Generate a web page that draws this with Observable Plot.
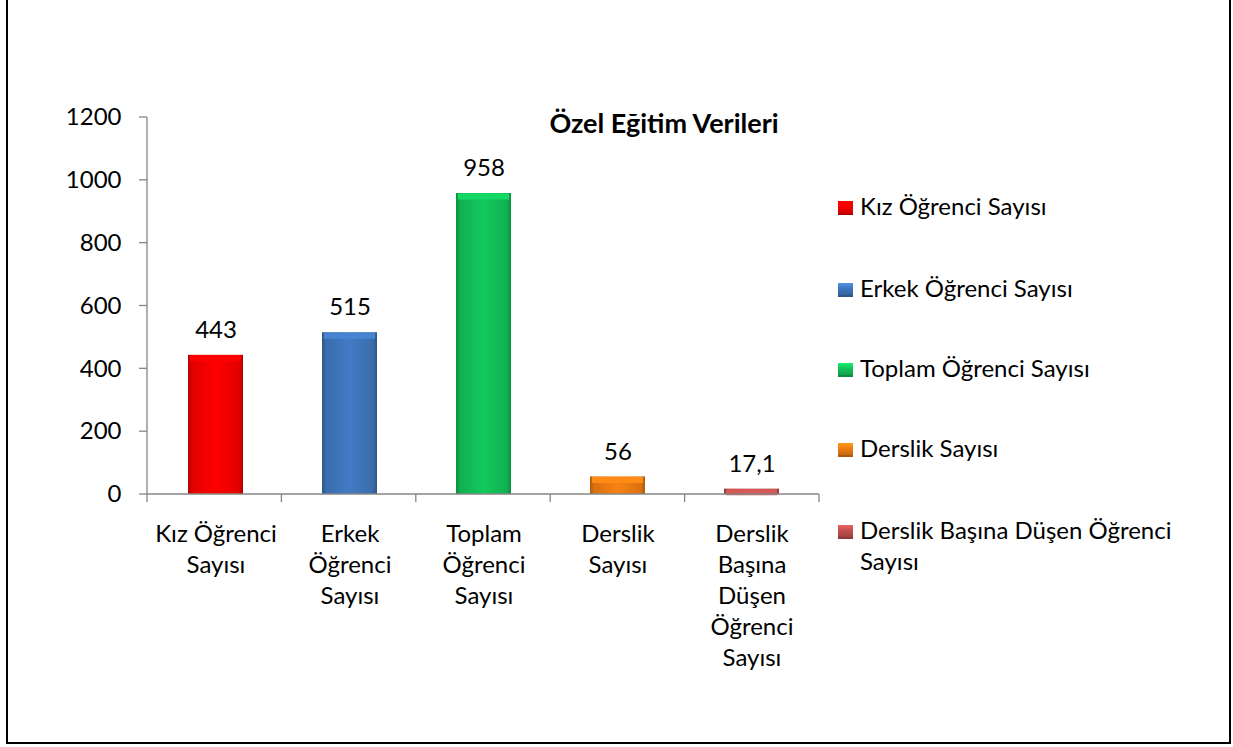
<!DOCTYPE html>
<html><head><meta charset="utf-8">
<script src="https://cdn.jsdelivr.net/npm/d3@7"></script>
<script src="https://cdn.jsdelivr.net/npm/@observablehq/plot@0.6"></script>
<style>
body{margin:0;background:#fff;font-family:Lato,"Open Sans",sans-serif;}
#wrap{position:relative;width:1233px;height:747px;overflow:hidden;background:#fff;}
#frame{position:absolute;left:6px;top:-10px;width:1225px;height:754px;border:2px solid #000;box-sizing:border-box;pointer-events:none;}
#chart{position:absolute;left:0;top:0;}
#title{position:absolute;left:464px;width:400px;text-align:center;top:107px;line-height:31px;font-size:27px;font-weight:bold;color:#000;}
.leg{position:absolute;left:860px;width:330px;font-size:24px;line-height:31px;color:#000;}
.mk{position:absolute;left:838px;width:15px;height:14px;box-sizing:border-box;}
</style>
</head><body>
<svg width="0" height="0" style="position:absolute"><defs id="defs"></defs></svg>
<div id="wrap"><div id="chart"></div><div id="title"></div><div id="frame"></div></div>
<script>
const titleText = "Özel Eğitim Verileri";
const categories = ["Kız Öğrenci Sayısı","Erkek Öğrenci Sayısı","Toplam Öğrenci Sayısı","Derslik Sayısı","Derslik Başına Düşen Öğrenci Sayısı"];
const axisLabels = ["Kız Öğrenci\nSayısı","Erkek\nÖğrenci\nSayısı","Toplam\nÖğrenci\nSayısı","Derslik\nSayısı","Derslik\nBaşına\nDüşen\nÖğrenci\nSayısı"];
const values = [443, 515, 958, 56, 17.1];
const valueLabels = ["443","515","958","56","17,1"];
const yTicks = [0,200,400,600,800,1000,1200];
const colors = ["#f80000","#3f77bd","#12c25a","#ee7d12","#c0504d"];
const legendBaselines = [215, 297, 377, 457, 539];

// gradients
const defs = d3.select("#defs");
colors.forEach((c,i)=>{
  const base = d3.color(c);
  const g = defs.append("linearGradient").attr("id","g"+i).attr("x1","0").attr("x2","1").attr("y1","0").attr("y2","0");
  [[0,base.darker(0.9)],[0.08,base.darker(0.25)],[0.5,base.brighter(0.1)],[0.92,base.darker(0.25)],[1,base.darker(0.9)]]
    .forEach(([o,col])=>g.append("stop").attr("offset",o).attr("stop-color",col.formatHex()));
});

const data = categories.map((c,i)=>({cat:c, value:values[i], label:valueLabels[i], grad:`url(#g${i})`, top:d3.color(colors[i]).brighter(0.3).formatHex()}));

const W = 1233, H = 747;
const gray = "#868686";
const chart = Plot.plot({
  width: W, height: H,
  marginLeft: 147, marginRight: W - 819, marginTop: 117, marginBottom: H - 494,
  style: {fontFamily: "Lato, 'Open Sans', sans-serif", fontSize: "24px", color: "#000", background: "transparent", overflow: "visible"},
  x: {domain: categories, paddingInner: 0.59, paddingOuter: 0.295},
  y: {domain: [0, 1200]},
  color: {type: "identity"},
  marks: [
    Plot.barY(data, {x: "cat", y: "value", fill: "grad"}),
    Plot.tickY(data, {x: "cat", y: "value", stroke: "top", strokeWidth: 6, dy: 3, insetLeft: 2, insetRight: 2}),
    Plot.text(data, {x: "cat", y: "value", text: "label", dy: -25, fill: "#000"}),
    Plot.axisY({ticks: yTicks, tickSize: 0, tickPadding: 26, label: null, tickFormat: d => String(d)}),
    Plot.axisX({tickSize: 0, tickPadding: 25, label: null, lineAnchor: "top", lineHeight: 1.3,
      tickFormat: d => axisLabels[categories.indexOf(d)]}),
    (index, scales, vals, dims) => {
      const g = d3.create("svg:g").attr("stroke", gray).attr("stroke-width", 1.3).attr("fill", "none");
      const y0 = scales.y(0), y1 = scales.y(1200);
      const xl = dims.marginLeft, xr = dims.width - dims.marginRight;
      g.append("line").attr("x1", xl).attr("x2", xl).attr("y1", y0).attr("y2", y1);
      g.append("line").attr("x1", xl).attr("x2", xr).attr("y1", y0).attr("y2", y0);
      yTicks.forEach(t => g.append("line").attr("x1", xl - 8).attr("x2", xl).attr("y1", scales.y(t)).attr("y2", scales.y(t)));
      const step = (xr - xl) / categories.length;
      for (let i = 0; i <= categories.length; i++) {
        const x = xl + i * step;
        g.append("line").attr("x1", x).attr("x2", x).attr("y1", y0).attr("y2", y0 + 8);
      }
      return g.node();
    }
  ]
});
document.getElementById("chart").appendChild(chart);
document.getElementById("title").textContent = titleText;

const wrap = document.getElementById("wrap");
categories.forEach((c,i)=>{
  const base = d3.color(colors[i]);
  const mk = document.createElement("div");
  mk.className = "mk";
  mk.style.top = (legendBaselines[i] - 14) + "px";
  mk.style.background = `linear-gradient(to bottom, ${base.brighter(0.6).formatHex()} 0%, ${base.formatHex()} 45%, ${base.darker(0.5).formatHex()} 100%)`;
  mk.style.borderBottom = `2px solid ${base.darker(0.9).formatHex()}`;
  wrap.appendChild(mk);
  const t = document.createElement("div");
  t.className = "leg";
  t.style.top = (legendBaselines[i] - 25) + "px";
  t.textContent = c;
  wrap.appendChild(t);
});
</script>
</body></html>
